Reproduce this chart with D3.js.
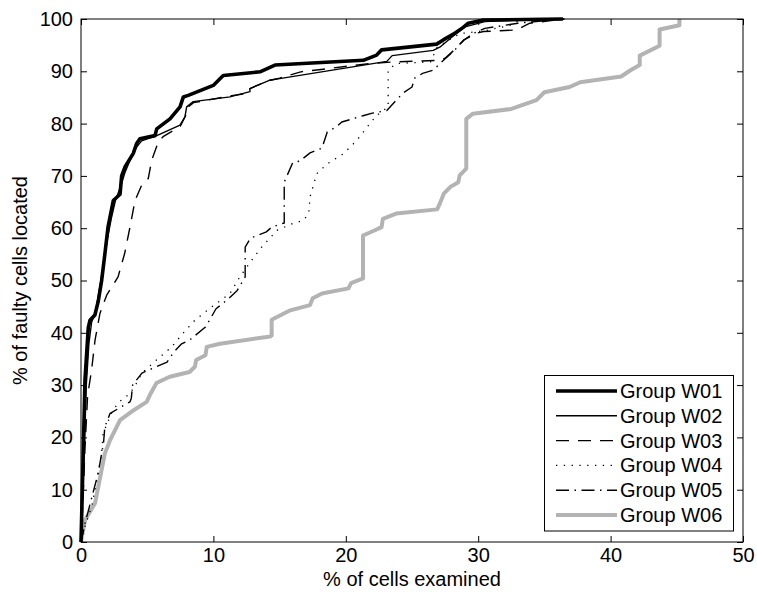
<!DOCTYPE html>
<html>
<head>
<meta charset="utf-8">
<script src="https://cdn.jsdelivr.net/npm/d3@7"></script>
<style>
  html, body { margin: 0; padding: 0; background: #fff; }
  svg { display: block; font-family: "Liberation Sans", Arial, Helvetica, sans-serif; }
</style>
</head>
<body>
<svg id="chart" width="757" height="601"></svg>
<script>
// Cumulative share of faulty cells located vs. share of cells examined, per group.
const xTicks = [0, 10, 20, 30, 40, 50];
const yTicks = [0, 10, 20, 30, 40, 50, 60, 70, 80, 90, 100];
const groupNames = ["Group W01", "Group W02", "Group W03", "Group W04", "Group W05", "Group W06"];

// [% of cells examined, % of faulty cells located]
const w01 = [[0,0],[0.15,15],[0.3,31],[0.55,41],[0.68,42.4],[1.05,43.4],[1.3,46],[1.56,50],[1.8,55],[2.04,60.2],[2.3,63.5],[2.44,65.3],[2.95,66.5],[3.07,70],[3.32,71.7],[3.95,74.3],[4.2,76.2],[4.45,77.1],[5.59,77.7],[5.72,79],[6.72,80.9],[7.48,83.2],[7.73,85.1],[8.1,85.4],[9.99,87.3],[10.63,88.9],[10.75,89.2],[13.52,89.9],[14.65,91.2],[21.32,92.1],[22.33,93.1],[22.71,94.1],[26.86,95.2],[27.36,96],[28.12,97.1],[28.87,98.4],[29.25,99.2],[30.4,99.8],[36.4,100]];
const w02 = [[0,0],[0.2,14],[0.4,30],[0.6,38],[0.8,42],[1.1,44],[1.5,50],[2.0,58],[2.3,62],[2.6,65.3],[3.0,68],[3.3,70.5],[3.7,73],[4.2,75.5],[4.58,76.7],[5.72,77.7],[7.48,79.7],[7.85,81.3],[7.98,83.2],[8.48,84.2],[11.25,85.1],[12.76,86.1],[12.76,86.7],[14.27,88.3],[15,88.6],[23.1,91.9],[23.5,93],[26.6,94],[27.1,94.6],[28,96.5],[29,98.5],[30.5,99.5],[34,99.9],[36.5,100]];
const w03 = [[0,0],[0.15,8],[0.3,18],[0.5,28],[0.8,32.9],[1.06,38.6],[1.43,43.7],[1.94,47.2],[2.8,50.7],[3.3,55.2],[3.7,60.2],[4.08,65.3],[4.58,68.2],[5.08,69.5],[5.34,73],[5.84,76.5],[6.2,77.5],[7.5,79.5],[7.9,81.5],[8.0,83],[8.5,84],[11.5,85.4],[12.64,85.8],[12.76,86.7],[14.27,88.3],[15,88.7],[16.6,89.9],[18.3,90.4],[21.8,91.5],[23.6,91.8],[27.1,92.1],[27.5,92.5],[28.2,94.1],[28.9,96],[29.9,97.3],[30.4,97.6],[32.9,97.9],[33.9,99.2],[36.5,100]];
const w04 = [[0,0],[0.3,3],[0.8,6.7],[1.2,11.8],[1.56,17],[1.67,20.8],[2.3,24.6],[2.8,26.6],[3.7,28.4],[4.2,30.4],[4.6,32.3],[5.7,34.8],[6.85,37.3],[7.7,39.9],[8.6,42.4],[9.74,44.7],[11.25,47.5],[12,50.7],[12.9,53.9],[13.65,56.4],[14.8,59.6],[16,60.9],[16.8,61.5],[17.2,62.8],[17.3,66],[17.8,70.4],[18.6,72.3],[19.8,74.2],[20.8,76.7],[21.6,79.3],[22.3,81.5],[23.2,83.2],[23.2,90.2],[23.8,91.5],[26.4,91.8],[26.9,94.6],[28.6,97.2],[30.6,97.8],[32.4,98.8],[33,99.6],[34.7,100]];
const w05 = [[0,0],[0.3,3.5],[0.7,7.4],[1.3,13.2],[1.7,18.9],[1.8,22],[2.2,24.6],[3.7,26.8],[3.8,27.5],[3.9,30],[4.6,32.3],[6.5,34.4],[7,36.3],[7.6,37.9],[8.2,38.6],[9.4,41.1],[9.7,42.4],[10.2,44.6],[11,46.2],[11.8,48.1],[12.4,50.7],[12.4,56.4],[12.8,58.1],[14,59.3],[14.4,60.2],[15.35,61],[15.35,68.8],[16,72.6],[16.5,72.8],[17.3,74.4],[18.2,75.3],[18.6,78.4],[19.3,79.4],[19.7,80.3],[21.3,81.5],[22,82],[23.1,82.5],[24.3,85.8],[25,87],[25.2,88.7],[25.8,89.6],[26.6,90.2],[27.2,91.7],[28.2,94],[28.9,95.9],[29.6,97.2],[30.5,98.2],[33,99.2],[36.5,100]];
const w06 = [[0,0],[0.3,4.2],[1.06,7.4],[1.4,11.8],[1.8,16.9],[2.2,19.5],[2.95,23.3],[3.8,24.9],[4.96,26.8],[5.2,28.1],[5.7,30.4],[6.7,31.6],[8.2,32.5],[8.6,33.5],[8.7,34.8],[9.4,35.7],[9.5,37.3],[10.5,37.9],[14.3,39.3],[14.4,39.5],[14.4,42.5],[15.8,44.3],[17.3,45.3],[17.5,46.6],[18.2,47.5],[20.2,48.5],[20.4,49.5],[21.3,50.4],[21.3,58.6],[22.2,59.6],[22.7,60.2],[22.8,61.8],[23.8,62.8],[26.9,63.6],[27.1,64.7],[27.4,66.6],[27.9,67.9],[28.5,68.8],[28.6,70.1],[29.1,71.4],[29.1,80.9],[29.6,81.9],[32.5,82.8],[34.4,84.5],[35,86],[36.9,87],[37.7,87.9],[40.8,89],[41.5,90.2],[42.2,91.2],[42.2,93],[43.7,94.9],[43.7,98],[45.2,98.8],[45.2,100]];

const seriesData = [w01, w02, w03, w04, w05, w06];
const seriesStyle = [
  { color: "#000", width: 3.6, dash: null },
  { color: "#000", width: 1.4, dash: null },
  { color: "#000", width: 1.4, dash: "13,9" },
  { color: "#000", width: 1.3, dash: "1.3,6.5" },
  { color: "#000", width: 1.4, dash: "13,5.5,1.5,5.5" },
  { color: "#b3b3b3", width: 4, dash: null }
];

const svg = d3.select("#chart");
const plotLeft = 81, plotRight = 743, plotTop = 19, plotBottom = 542;
const x = d3.scaleLinear().domain([0, 50]).range([plotLeft, plotRight]);
const y = d3.scaleLinear().domain([0, 100]).range([plotBottom, plotTop]);

const fontSize = 20;

function styleAxis(g) {
  g.select(".domain").remove();
  g.selectAll("text").attr("font-size", fontSize).attr("font-family", null).attr("fill", "#000");
  g.selectAll("line").attr("stroke", "#000");
}

// Axes with inward ticks, mirrored on top and right
svg.append("g").attr("transform", `translate(0,${plotBottom})`)
  .call(d3.axisBottom(x).tickValues(xTicks).tickSizeInner(-6).tickSizeOuter(0).tickPadding(6))
  .call(styleAxis);
svg.append("g").attr("transform", `translate(${plotLeft},0)`)
  .call(d3.axisLeft(y).tickValues(yTicks).tickSizeInner(-6).tickSizeOuter(0).tickPadding(8))
  .call(styleAxis);
svg.append("g").attr("transform", `translate(0,${plotTop})`)
  .call(d3.axisTop(x).tickValues(xTicks).tickSizeInner(-6).tickSizeOuter(0).tickFormat(""))
  .call(styleAxis);
svg.append("g").attr("transform", `translate(${plotRight},0)`)
  .call(d3.axisRight(y).tickValues(yTicks).tickSizeInner(-6).tickSizeOuter(0).tickFormat(""))
  .call(styleAxis);

// Curves
const plot = svg.append("g");
const line = d3.line().x(d => x(d[0])).y(d => y(d[1]));
// grey curve first so the black curves sit on top
const order = [5, 4, 3, 2, 1, 0];
order.forEach(i => {
  const s = seriesStyle[i];
  plot.append("path")
    .datum(seriesData[i])
    .attr("d", line)
    .attr("fill", "none")
    .attr("stroke", s.color)
    .attr("stroke-width", s.width)
    .attr("stroke-linejoin", "round")
    .attr("stroke-dasharray", s.dash);
});

// Plot frame
svg.append("rect")
  .attr("x", plotLeft).attr("y", plotTop).attr("width", plotRight - plotLeft).attr("height", plotBottom - plotTop)
  .attr("fill", "none").attr("stroke", "#000").attr("stroke-width", 1);

// Axis titles
svg.append("text")
  .attr("x", (plotLeft + plotRight) / 2).attr("y", 586)
  .attr("text-anchor", "middle").attr("font-size", fontSize)
  .text("% of cells examined");
svg.append("text")
  .attr("transform", `translate(27,${(plotTop + plotBottom) / 2}) rotate(-90)`)
  .attr("text-anchor", "middle").attr("font-size", fontSize)
  .text("% of faulty cells located");

// Legend
const legend = svg.append("g");
legend.append("rect")
  .attr("x", 544.5).attr("y", 375.5).attr("width", 189).attr("height", 155.5)
  .attr("fill", "#fff").attr("stroke", "#000").attr("stroke-width", 1);
const rowY = d3.scaleLinear().domain([0, 5]).range([391, 515]);
groupNames.forEach((name, i) => {
  const s = seriesStyle[i];
  legend.append("line")
    .attr("x1", 556).attr("x2", 617)
    .attr("y1", rowY(i)).attr("y2", rowY(i))
    .attr("stroke", s.color).attr("stroke-width", s.width)
    .attr("stroke-dasharray", s.dash);
  legend.append("text")
    .attr("x", 620).attr("y", rowY(i))
    .attr("dy", "0.35em").attr("font-size", fontSize)
    .text(name);
});
</script>
</body>
</html>
